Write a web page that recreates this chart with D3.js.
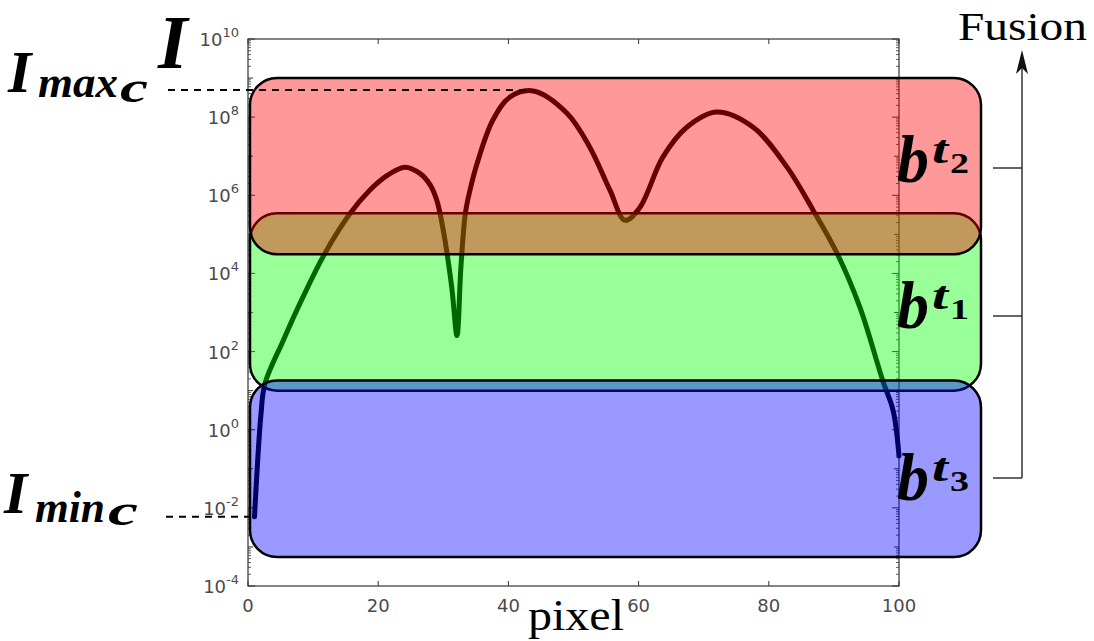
<!DOCTYPE html>
<html><head><meta charset="utf-8">
<script src="https://cdn.jsdelivr.net/npm/d3@7"></script>
<style>
html,body{margin:0;padding:0;background:#fff;}
svg{display:block;}
</style></head>
<body>
<svg id="chart" width="1094" height="641"></svg>
<script>
// ---- data ----
const xTicks = [0, 20, 40, 60, 80, 100];
const yTickExps = [-4, -2, 0, 2, 4, 6, 8, 10];
// pixel index and log10 intensity
const pixelX = [1, 2, 2.6, 5.4, 8.4, 11.8, 15.7, 18.7, 21.4, 24.1, 26.4, 28.0, 29.0, 30.0, 31.3, 32.1, 32.7, 33.4, 34.1, 35.2, 37.6, 40.2, 43.8, 49.0, 52.5, 55.6, 57.9, 60.2, 63.7, 67.4, 72.0, 77.6, 82.8, 86.8, 90.5, 94.0, 97.5, 99.1, 100];
const logI   = [-2.23, 0.41, 1.18, 2.28, 3.38, 4.51, 5.54, 6.13, 6.51, 6.72, 6.56, 6.26, 5.87, 5.10, 3.64, 2.41, 4.15, 5.55, 6.13, 6.82, 7.92, 8.51, 8.67, 8.10, 7.23, 6.13, 5.36, 5.69, 6.97, 7.74, 8.13, 7.74, 6.72, 5.62, 4.51, 3.13, 1.26, 0.49, -0.67];
// intensity bands (log10 range) drawn in order
const bandNames = ["t1", "t2", "t3"];
const bandSubs  = ["1", "2", "3"];
const bandTop    = [5.54, 9.0, 1.26];
const bandBottom = [1.0, 4.49, -3.26];
const bandColors = ["#00ff00", "#ff0000", "#0000ff"];

// ---- layout ----
const svg = d3.select("#chart");
const x = d3.scaleLinear().domain([0, 100]).range([248, 899]);
const y = d3.scaleLog().domain([1e-4, 1e10]).range([586, 39]);
const tickColor = "#4a4a4a";
const axisColor = "#333";

// frame
const g = svg.append("g");
g.append("rect").attr("x", x(0)).attr("y", y(1e10)).attr("width", x(100) - x(0)).attr("height", y(1e-4) - y(1e10))
  .attr("fill", "none").attr("stroke", axisColor).attr("stroke-width", 1.2);

// y ticks (major every decade, minor 2..9)
for (let e = -4; e <= 10; e++) {
  const yy = y(Math.pow(10, e));
  const len = (e % 2 === 0) ? 7 : 5;
  [[x(0), 1], [x(100), -1]].forEach(([xx, dir]) => {
    g.append("line").attr("x1", xx).attr("x2", xx + dir * len).attr("y1", yy).attr("y2", yy)
      .attr("stroke", axisColor).attr("stroke-width", 1);
  });
  if (e < 10) {
    for (let m = 2; m <= 9; m++) {
      const ym = y(m * Math.pow(10, e));
      [[x(0), 1], [x(100), -1]].forEach(([xx, dir]) => {
        g.append("line").attr("x1", xx).attr("x2", xx + dir * 3).attr("y1", ym).attr("y2", ym)
          .attr("stroke", axisColor).attr("stroke-width", 0.8);
      });
    }
  }
}
// y tick labels
yTickExps.forEach(e => {
  const t = g.append("text").attr("x", 239).attr("y", y(Math.pow(10, e)) + 7)
    .attr("text-anchor", "end").attr("font-family", "DejaVu Sans").attr("fill", tickColor).attr("font-size", 18);
  t.append("tspan").text("10");
  t.append("tspan").attr("dy", -9).attr("font-size", 13).text(e < 0 ? "-" + Math.abs(e) : String(e));
});
// x ticks
xTicks.forEach(v => {
  const xx = x(v);
  g.append("line").attr("x1", xx).attr("x2", xx).attr("y1", y(1e-4)).attr("y2", y(1e-4) - 5).attr("stroke", axisColor);
  g.append("line").attr("x1", xx).attr("x2", xx).attr("y1", y(1e10)).attr("y2", y(1e10) + 5).attr("stroke", axisColor);
  g.append("text").attr("x", xx).attr("y", 612).attr("text-anchor", "middle")
    .attr("font-family", "DejaVu Sans").attr("font-size", 18).attr("fill", tickColor).text(v);
});

// curve
const pts = pixelX.map((p, i) => [p, Math.pow(10, logI[i])]);
const line = d3.line().x(d => x(d[0])).y(d => y(d[1])).curve(d3.curveCatmullRom.alpha(0.5));
svg.append("path").attr("d", line(pts)).attr("fill", "none").attr("stroke", "#000")
  .attr("stroke-width", 5).attr("stroke-linecap", "round").attr("stroke-linejoin", "round");

// bands
const bx0 = x(0) + 2, bx1 = 981;
bandNames.forEach((n, i) => {
  const yt = y(Math.pow(10, bandTop[i])), yb = y(Math.pow(10, bandBottom[i]));
  svg.append("rect").attr("x", bx0).attr("y", yt).attr("width", bx1 - bx0).attr("height", yb - yt)
    .attr("rx", 27).attr("ry", 27)
    .attr("fill", bandColors[i]).attr("fill-opacity", 0.4)
    .attr("stroke", "#000").attr("stroke-width", 2.5);
});

// dashed lines Imax / Imin
const maxI = d3.max(logI), minI = d3.min(logI);
const xMax = pixelX[logI.indexOf(maxI)], xMin = pixelX[logI.indexOf(minI)];
svg.append("line").attr("x1", 168).attr("x2", x(xMax)).attr("y1", y(Math.pow(10, maxI)) - 1).attr("y2", y(Math.pow(10, maxI)) - 1)
  .attr("stroke", "#000").attr("stroke-width", 2).attr("stroke-dasharray", "7,6");
svg.append("line").attr("x1", 166).attr("x2", x(xMin)).attr("y1", y(Math.pow(10, minI))).attr("y2", y(Math.pow(10, minI)))
  .attr("stroke", "#000").attr("stroke-width", 2).attr("stroke-dasharray", "7,6");

// math labels
const serif = "Liberation Serif";
function mtext(txt, xx, yy, size, opts = {}) {
  const t = svg.append("text").attr("x", xx).attr("y", yy).attr("font-family", serif)
    .attr("font-size", size).attr("font-weight", opts.weight || "bold")
    .attr("font-style", opts.style || "italic").attr("fill", "#000").text(txt);
  if (opts.len) t.attr("textLength", opts.len).attr("lengthAdjust", "spacingAndGlyphs");
  return t;
}
// I axis symbol
mtext("I", 158, 68, 76);
// I_max_c
mtext("I", 8, 92, 60);
mtext("max", 38, 97, 44, {len: 80});
mtext("c", 120, 102, 44, {len: 28});
// I_min_c
mtext("I", 4, 513, 60);
mtext("min", 35, 522, 44, {len: 70});
mtext("c", 108, 525, 44, {len: 30});

// b^{t_i} labels
const labelBase = {t1: 328, t2: 182, t3: 500};
bandNames.forEach((n, i) => {
  const b = labelBase[n];
  mtext("b", 897, b, 68, {len: 32});
  mtext("t", 932, b - 19, 40, {len: 16});
  mtext(bandSubs[i], 950, b - 9, 30, {style: "normal", len: 19});
});

// Fusion arrow & bracket
const ax = 1022;
svg.append("line").attr("x1", ax).attr("x2", ax).attr("y1", 478).attr("y2", 66).attr("stroke", axisColor).attr("stroke-width", 1.5);
svg.append("path").attr("d", `M${ax},50 L${ax + 6},74 L${ax},68 L${ax - 6},74 Z`).attr("fill", "#111");
[168, 316, 478].forEach(yy => {
  svg.append("line").attr("x1", 993).attr("x2", ax).attr("y1", yy).attr("y2", yy).attr("stroke", axisColor).attr("stroke-width", 1.5);
});
mtext("Fusion", 958, 40, 40, {weight: "normal", style: "normal", len: 129});
mtext("pixel", 528, 630, 44, {weight: "normal", style: "normal", len: 96});
</script>
</body></html>
